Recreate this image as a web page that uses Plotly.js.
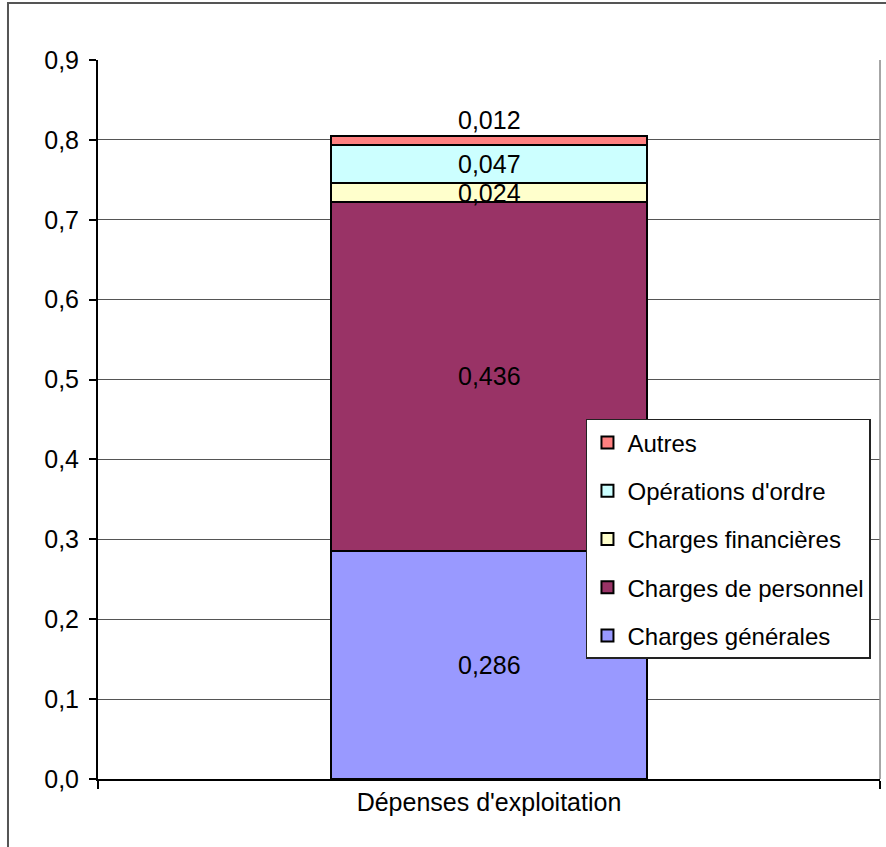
<!DOCTYPE html>
<html><head><meta charset="utf-8">
<script src="https://cdn.plot.ly/plotly-3.0.1.min.js"></script>
<style>html,body{margin:0;padding:0;background:#fff}#c{width:886px;height:847px}</style>
</head><body><div id="c"></div>
<script>
const categories = ["Dépenses d'exploitation"];
const seriesNames = ["Charges générales","Charges de personnel","Charges financières","Opérations d'ordre","Autres"];
const chargesGenerales = [0.286];
const chargesPersonnel = [0.436];
const chargesFinancieres = [0.024];
const operationsOrdre = [0.047];
const autres = [0.012];
const yTickVals = [0,0.1,0.2,0.3,0.4,0.5,0.6,0.7,0.8,0.9];

const seriesValues = [chargesGenerales, chargesPersonnel, chargesFinancieres, operationsOrdre, autres];
const colors = ['#9999FF','#993366','#FFFFCC','#CCFFFF','#FF8080'];
const fam = '"Liberation Sans", Arial, sans-serif';
const font = {family:fam, size:25, color:'#000'};
const legFont = {family:fam, size:24, color:'#000'};

const traces = seriesValues.map((vals,i)=>({
  type:'bar', x:categories, y:vals, name:seriesNames[i], legendgroup:'g'+i,
  legendrank: seriesValues.length - i,
  marker:{color:colors[i], line:{color:'#000', width:2}},
  width:0.403, textposition:'none', hoverinfo:'skip'
}));

// data labels placed from the data through the axis scale
const annotations = [];
let base = 0;
seriesValues.forEach((vals,i)=>{
  const v = vals[0];
  const last = i === seriesValues.length - 1;
  annotations.push({
    x: categories[0], y: last ? base + v : base + v/2, xref:'x', yref:'y',
    text: v.toFixed(3).replace('.', ','), showarrow:false,
    yanchor: last ? 'bottom' : 'middle', font:font
  });
  base += v;
});

const layout = {
  width:886, height:847,
  margin:{l:98, r:6, t:60, b:68},
  barmode:'stack', bargap:0.6,
  separators:',.',
  font:font,
  paper_bgcolor:'#fff', plot_bgcolor:'#fff',
  showlegend:true,
  legend:{x:0.624, xanchor:'left', y:0.5007, yanchor:'top',
    traceorder:'grouped', tracegroupgap:14,
    bordercolor:'#222', borderwidth:1.5, bgcolor:'#fff', font:legFont},
  xaxis:{type:'category', showline:true, linecolor:'#000', linewidth:2,
    ticks:'outside', tickson:'boundaries', ticklen:8, tickcolor:'#000', tickwidth:2,
    showgrid:false, tickfont:font},
  yaxis:{range:[0,0.9], tickvals:yTickVals, tickformat:'.1f', showline:true, linecolor:'#000', linewidth:2,
    ticks:'outside', ticklen:7, tickcolor:'#000', tickwidth:2,
    showgrid:true, gridcolor:'#555', gridwidth:1, zeroline:false, tickfont:font, ticklabelstandoff:5},
  annotations: annotations,
  shapes:[
    {type:'line', xref:'paper', yref:'paper', x0:1, x1:1, y0:0, y1:1, line:{color:'#888', width:1.5}},
    {type:'rect', xref:'paper', yref:'paper', x0:-0.1151, x1:1.05, y0:-0.2, y1:1.0793, line:{color:'#555', width:2}, layer:'below'}
  ]
};
Plotly.newPlot('c', traces, layout, {displayModeBar:false, staticPlot:true});
</script></body></html>
